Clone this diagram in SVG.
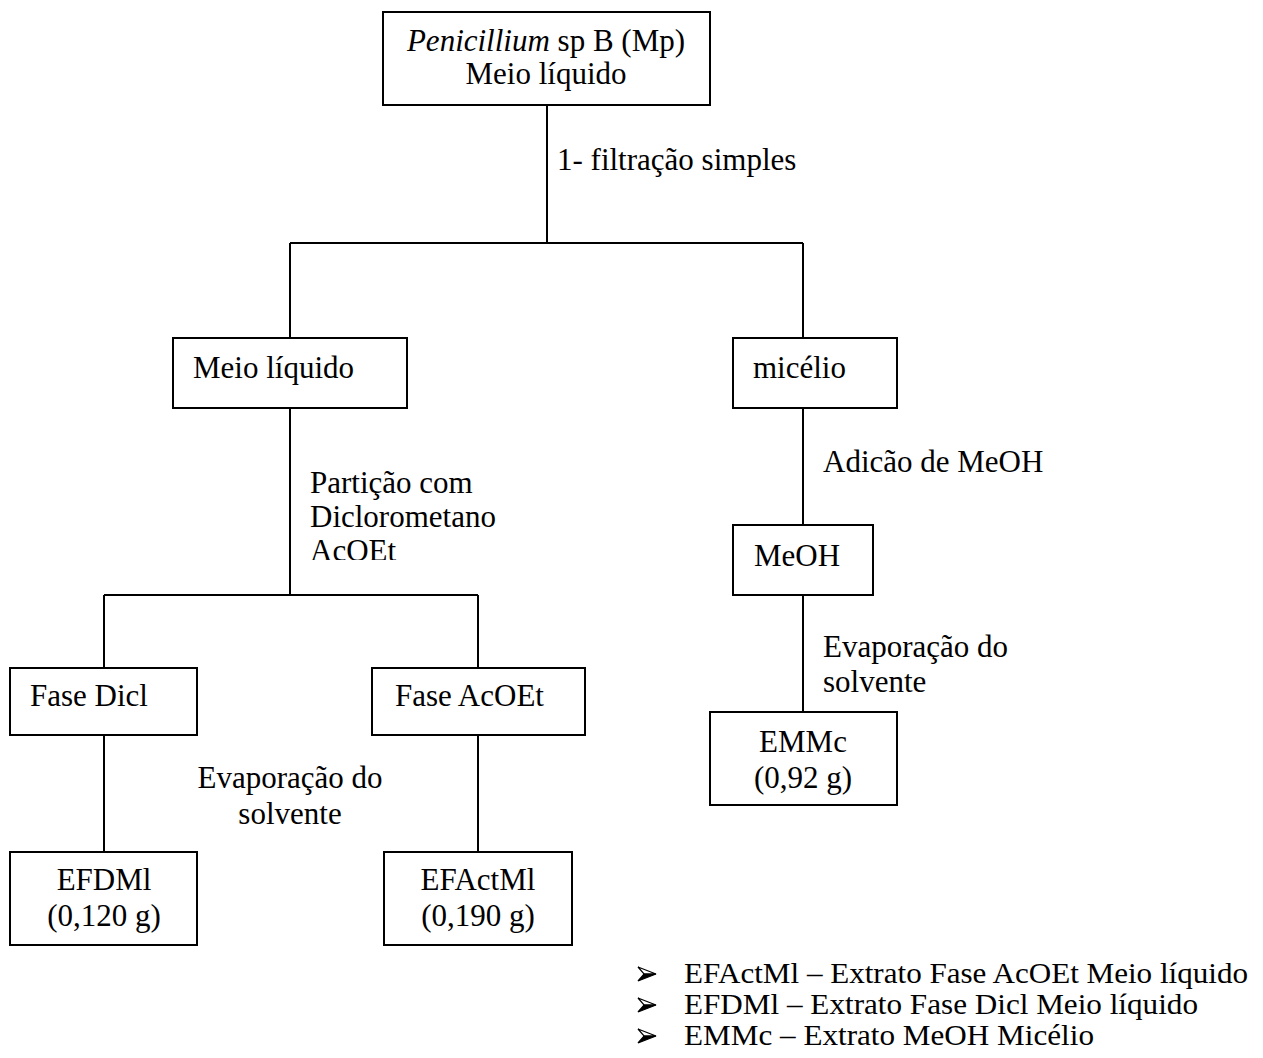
<svg xmlns="http://www.w3.org/2000/svg" width="1263" height="1058" viewBox="0 0 1263 1058">
<style>
.t{font-family:"Liberation Serif","Times New Roman",serif;font-size:31px;fill:#000}
.lg{font-family:"Liberation Serif","Times New Roman",serif;font-size:28.5px;fill:#000}
.m{text-anchor:middle}
.box{fill:#fff;stroke:#000;stroke-width:2}
.ln{fill:none;stroke:#000;stroke-width:2}
</style>
<defs>
<clipPath id="clipA"><rect x="300" y="440" width="200" height="120"/></clipPath>
<g id="bullet">
<path d="M0,0 L18,7 L6,7 Z" fill="#fff" stroke="#000" stroke-width="1.2" stroke-linejoin="miter"/>
<path d="M0,14 L18,7 L6,7 Z" fill="#000" stroke="#000" stroke-width="1.2"/>
</g>
</defs>
<rect width="1263" height="1058" fill="#fff"/>
<g id="connectors" class="ln">
<path d="M547,105 V243"/>
<path d="M290,243 H803"/>
<path d="M290,243 V338"/>
<path d="M803,243 V338"/>
<path d="M290,408 V595"/>
<path d="M104,595 H478"/>
<path d="M104,595 V668"/>
<path d="M478,595 V668"/>
<path d="M104,735 V852"/>
<path d="M478,735 V852"/>
<path d="M803,408 V525"/>
<path d="M803,595 V712"/>
</g>
<g id="labels">
<text class="t" x="557" y="170">1- filtração simples</text>
<g clip-path="url(#clipA)">
<text class="t" x="310" y="493">Partição com</text>
<text class="t" x="310" y="527">Diclorometano</text>
<text class="t" x="310" y="561">AcOEt</text>
</g>
<text class="t m" x="290" y="788">Evaporação do</text>
<text class="t m" x="290" y="824">solvente</text>
<text class="t" x="823" y="472">Adicão de MeOH</text>
<text class="t" x="823" y="657">Evaporação do</text>
<text class="t" x="823" y="692">solvente</text>
</g>
<g id="n-top">
<rect class="box" x="383" y="12" width="327" height="93"/>
<text class="t m" x="546" y="51"><tspan font-style="italic">Penicillium</tspan> sp B (Mp)</text>
<text class="t m" x="546" y="84">Meio líquido</text>
</g>
<g id="n-meio">
<rect class="box" x="173" y="338" width="234" height="70"/>
<text class="t" x="193" y="378">Meio líquido</text>
</g>
<g id="n-micelio">
<rect class="box" x="733" y="338" width="164" height="70"/>
<text class="t" x="753" y="378">micélio</text>
</g>
<g id="n-meoh">
<rect class="box" x="733" y="525" width="140" height="70"/>
<text class="t" x="754" y="566">MeOH</text>
</g>
<g id="n-emmc">
<rect class="box" x="710" y="712" width="187" height="93"/>
<text class="t m" x="803" y="752">EMMc</text>
<text class="t m" x="803" y="788">(0,92 g)</text>
</g>
<g id="n-dicl">
<rect class="box" x="10" y="668" width="187" height="67"/>
<text class="t" x="30" y="706">Fase Dicl</text>
</g>
<g id="n-acoet">
<rect class="box" x="372" y="668" width="213" height="67"/>
<text class="t" x="395" y="706">Fase AcOEt</text>
</g>
<g id="n-efdml">
<rect class="box" x="10" y="852" width="187" height="93"/>
<text class="t m" x="104" y="890">EFDMl</text>
<text class="t m" x="104" y="926">(0,120 g)</text>
</g>
<g id="n-efactml">
<rect class="box" x="384" y="852" width="188" height="93"/>
<text class="t m" x="478" y="890">EFActMl</text>
<text class="t m" x="478" y="926">(0,190 g)</text>
</g>
<g id="legend">
<use href="#bullet" x="638" y="967"/>
<use href="#bullet" x="638" y="998"/>
<use href="#bullet" x="638" y="1029"/>
<text class="lg" x="684" y="983" textLength="564" lengthAdjust="spacingAndGlyphs">EFActMl – Extrato Fase AcOEt Meio líquido</text>
<text class="lg" x="684" y="1014" textLength="514" lengthAdjust="spacingAndGlyphs">EFDMl – Extrato Fase Dicl Meio líquido</text>
<text class="lg" x="684" y="1045" textLength="410" lengthAdjust="spacingAndGlyphs">EMMc – Extrato MeOH Micélio</text>
</g>
</svg>
